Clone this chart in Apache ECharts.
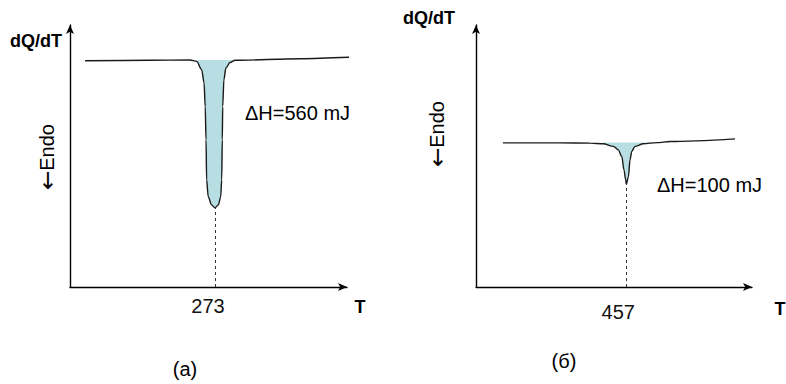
<!DOCTYPE html>
<html>
<head>
<meta charset="utf-8">
<script src="https://cdn.jsdelivr.net/npm/echarts@6/dist/echarts.min.js"></script>
<style>html,body{margin:0;padding:0;background:#fff}#c{width:786px;height:384px}</style>
</head>
<body>
<div id="c"></div>
<script>
// ---- Panel (a) ----
var leftT = [207.6, 240.3, 260.4, 263.8, 266.3, 267.5, 268.1, 268.5, 268.8, 269.6, 271.3, 273, 274.7, 275.9, 276.4, 276.7, 276.9, 277.5, 278.5, 280.6, 283.1, 315.8, 346.0];
var leftQ = [84.6, 84.8, 84.9, 84.4, 81.3, 76.4, 67.5, 55.1, 40.1, 33.8, 30.7, 29.6, 30.7, 33.8, 40.1, 55.1, 67.5, 77.5, 81.9, 84.0, 84.8, 85.4, 86.1];
var leftFillStart = 3, leftFillEnd = 20;
var leftBaseQ = 84.95;
var leftPeakT = 273, leftPeakQ = 29.6;
var leftTick = '273';
var leftDH = 'ΔH=560 mJ';

// ---- Panel (б) ----
var rightT = [393.8, 423.1, 438.4, 445.2, 450.4, 452.9, 454.7, 455.8, 456.7, 457, 458.1, 458.9, 459.8, 461.5, 465.7, 472.6, 479.4, 512.7];
var rightQ = [53.9, 53.9, 53.8, 53.6, 52.6, 51.3, 48.8, 43.8, 40.1, 38.4, 41.3, 47.6, 50.7, 52.6, 53.6, 54.0, 54.4, 55.4];
var rightFillStart = 3, rightFillEnd = 15;
var rightBaseQ = 54.05;
var rightPeakT = 457, rightPeakQ = 38.4;
var rightTick = '457';
var rightDH = 'ΔH=100 mJ';

var yLabel = 'dQ/dT', xLabel = 'T', endoArrow = '←', endoWord = 'Endo';
var panelLabels = ['(a)', '(б)'];

function pairs(t, q) { return t.map(function (v, i) { return [v, q[i]]; }); }

// fill between the peak and the baseline, using the area origin
function fillSeries(t, q, s, e, base, idx) {
  return {
    type: 'line', xAxisIndex: idx, yAxisIndex: idx,
    data: pairs(t.slice(s, e + 1), q.slice(s, e + 1)), symbol: 'none',
    smooth: 0.3, smoothMonotone: 'x', lineStyle: { width: 0, opacity: 0 },
    areaStyle: { color: '#b7dee3', opacity: 1, origin: base }, silent: true, clip: false, z: 1
  };
}

function curveSeries(t, q, idx, peakT, peakQ, tick, padR, dist) {
  return {
    type: 'line', xAxisIndex: idx, yAxisIndex: idx, data: pairs(t, q), symbol: 'none',
    smooth: 0.3, smoothMonotone: 'x', clip: false, z: 3,
    lineStyle: { color: '#1a1a1a', width: 1.4 },
    markLine: {
      silent: true, symbol: 'none', animation: false,
      lineStyle: { type: [3, 3], color: '#333', width: 1 },
      label: { show: true, position: 'start', formatter: tick, fontSize: 20, color: '#111',
        fontFamily: 'Liberation Sans', distance: dist, padding: [0, padR, 0, 0] },
      data: [[{ coord: [peakT, 0] }, { coord: [peakT, peakQ] }]]
    }
  };
}

var axisLine = { show: true, symbol: ['none', 'arrow'], symbolSize: [6, 9], lineStyle: { color: '#000', width: 1.4 } };
function xAx(idx, min, max) {
  return { type: 'value', gridIndex: idx, min: min, max: max, axisLine: axisLine,
    axisTick: { show: false }, axisLabel: { show: false }, splitLine: { show: false } };
}
function yAx(idx) {
  return { type: 'value', gridIndex: idx, min: 0, max: 98, axisLine: axisLine,
    axisTick: { show: false }, axisLabel: { show: false }, splitLine: { show: false } };
}

var reg = '20px "Liberation Sans", Arial, sans-serif';
var bold = 'bold 18px "Liberation Sans", Arial, sans-serif';
function txt(text, x, y, font, align) {
  return { type: 'text', x: x, y: y, silent: true,
    style: { text: text, font: font, fill: '#000', align: align || 'center', verticalAlign: 'middle' } };
}
function endo(x, y) {
  return { type: 'text', x: x, y: y, rotation: Math.PI / 2, silent: true,
    style: { text: '{a|' + endoArrow + '}{b|' + endoWord + '}', align: 'center', verticalAlign: 'middle', fill: '#000',
      rich: { a: { fontFamily: 'DejaVu Sans', fontSize: 23, fill: '#000', color: '#000' },
              b: { fontFamily: 'Liberation Sans', fontSize: 20, fill: '#000', color: '#000' } } } };
}

var chart = echarts.init(document.getElementById('c'), null, { renderer: 'svg' });
chart.setOption({
  animation: false,
  backgroundColor: '#fff',
  grid: [
    { left: 70, right: 439, top: 25, bottom: 97 },
    { left: 476, right: 34, top: 25, bottom: 97 }
  ],
  xAxis: [xAx(0, 200, 339.5), xAx(1, 380, 521.4)],
  yAxis: [yAx(0), yAx(1)],
  series: [
    fillSeries(leftT, leftQ, leftFillStart, leftFillEnd, leftBaseQ, 0),
    fillSeries(rightT, rightQ, rightFillStart, rightFillEnd, rightBaseQ, 1),
    curveSeries(leftT, leftQ, 0, leftPeakT, leftPeakQ, leftTick, 14, 9),
    curveSeries(rightT, rightQ, 1, rightPeakT, rightPeakQ, rightTick, 16, 15)
  ],
  graphic: [
    txt(yLabel, 62, 41, bold, 'right'),
    txt(yLabel, 455, 18, bold, 'right'),
    endo(47, 157),
    endo(437, 134),
    txt(xLabel, 360, 307, bold, 'center'),
    txt(xLabel, 780, 309, bold, 'center'),
    txt(leftDH, 245, 113, reg, 'left'),
    txt(rightDH, 657, 185, reg, 'left'),
    txt(panelLabels[0], 185, 369, reg, 'center'),
    txt(panelLabels[1], 564, 361, reg, 'center')
  ]
});
</script>
</body>
</html>
